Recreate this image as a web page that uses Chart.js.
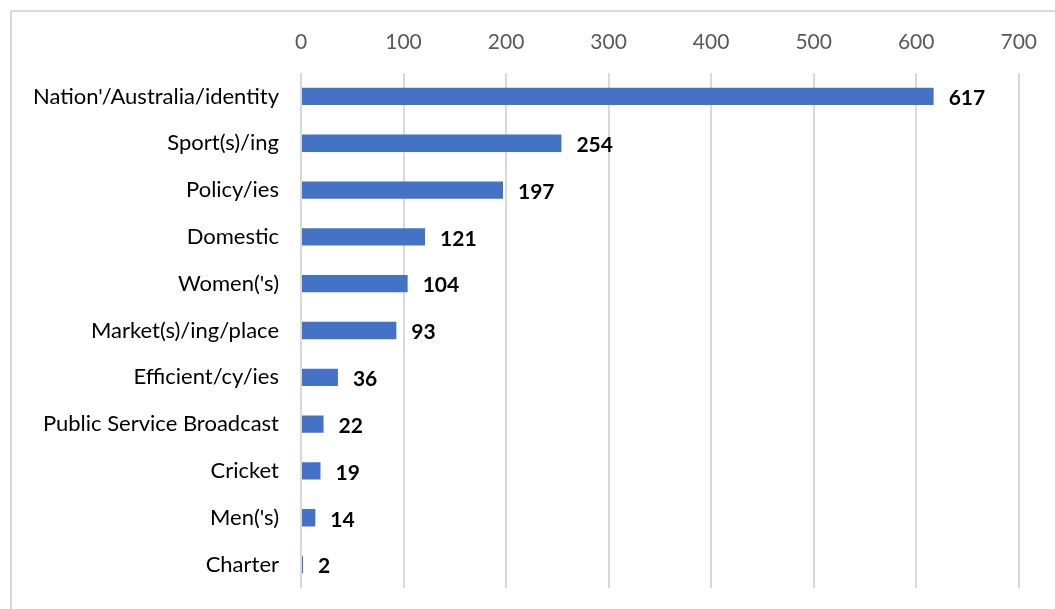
<!DOCTYPE html>
<html>
<head>
    <title>Term Frequency</title>
    <script src="https://cdn.jsdelivr.net/npm/chart.js@4"></script>
    <style>
        body { margin: 0; background: #fff; }
        #chart-container { width: 1055px; height: 609px; }
    </style>
</head>
<body>
    <div id="chart-container">
        <canvas id="chart" width="1055" height="609"></canvas>
    </div>

    <script>
        const terms = [
            "Nation'/Australia/identity",
            'Sport(s)/ing',
            'Policy/ies',
            'Domestic',
            "Women('s)",
            'Market(s)/ing/place',
            'Efficient/cy/ies',
            'Public Service Broadcast',
            'Cricket',
            "Men('s)",
            'Charter'
        ];
        const counts = [617, 254, 197, 121, 104, 93, 36, 22, 19, 14, 2];
        const axisMax = 700;
        const axisStep = 100;

        const fontFamily = 'Lato, "Liberation Sans", sans-serif';

        // outer frame, cut off at the right and bottom edges
        const frame = {
            id: 'frame',
            beforeDraw(chart) {
                const ctx = chart.ctx;
                ctx.save();
                ctx.strokeStyle = '#d9d9d9';
                ctx.lineWidth = 2;
                ctx.beginPath();
                ctx.moveTo(11, chart.height + 5);
                ctx.lineTo(11, 11);
                ctx.lineTo(chart.width + 5, 11);
                ctx.stroke();
                ctx.restore();
            }
        };

        // bold value next to the end of each bar
        const valueLabels = {
            id: 'valueLabels',
            afterDatasetsDraw(chart) {
                const ctx = chart.ctx;
                const meta = chart.getDatasetMeta(0);
                ctx.save();
                ctx.font = 'bold 21px ' + fontFamily;
                ctx.fillStyle = '#000';
                ctx.textAlign = 'left';
                ctx.textBaseline = 'middle';
                meta.data.forEach((bar, i) => {
                    ctx.fillText(String(counts[i]), bar.x + 15, bar.y + 2);
                });
                ctx.restore();
            }
        };

        new Chart(document.getElementById('chart').getContext('2d'), {
            type: 'bar',
            data: {
                labels: terms,
                datasets: [{
                    data: counts,
                    backgroundColor: '#4472c4',
                    borderWidth: 0,
                    categoryPercentage: 0.37,
                    barPercentage: 1
                }]
            },
            options: {
                indexAxis: 'y',
                responsive: false,
                animation: false,
                layout: { padding: { left: 0, right: 34, top: 0, bottom: 21 } },
                plugins: {
                    legend: { display: false },
                    tooltip: { enabled: false }
                },
                scales: {
                    x: {
                        position: 'top',
                        min: 0,
                        max: axisMax,
                        ticks: {
                            stepSize: axisStep,
                            padding: 18,
                            color: '#595959',
                            font: { family: fontFamily, size: 21 }
                        },
                        grid: { color: '#d9d9d9', lineWidth: 2, drawTicks: false },
                        border: { display: false },
                        afterFit(scale) { scale.height = 73; }
                    },
                    y: {
                        ticks: {
                            padding: 22,
                            color: '#000',
                            font: { family: fontFamily, size: 22 }
                        },
                        grid: { display: false, drawTicks: false },
                        border: { display: false },
                        afterFit(scale) {
                            scale.width = 301;
                            scale.paddingTop = 0;
                            scale.paddingBottom = 0;
                        }
                    }
                }
            },
            plugins: [frame, valueLabels]
        });
    </script>
</body>
</html>
